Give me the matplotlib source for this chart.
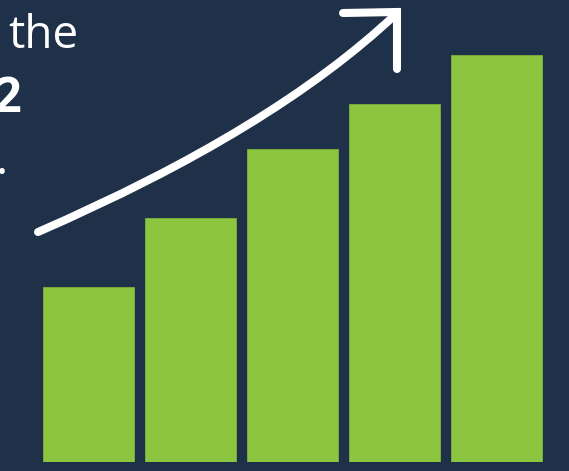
import matplotlib
matplotlib.use("Agg")
import matplotlib.pyplot as plt
from matplotlib.path import Path
from matplotlib.patches import PathPatch

# datos de las barras (altura relativa, la más alta = 100)
categorias = [0, 1, 2, 3, 4]
valores = [43, 60, 77, 88, 100]

fondo = "#1f3049"
verde = "#8cc540"

W, H = 569, 471
fig = plt.figure(figsize=(W / 100, H / 100), dpi=100, facecolor=fondo)

# ejes de las barras: base a 9 px del borde inferior
ax = fig.add_axes([0, 9 / H, 1, 1 - 9 / H])
ax.set_facecolor(fondo)
ax.bar(categorias, valores, width=0.892, color=verde, edgecolor="#7fb23a", linewidth=0.6)
ax.set_xlim(-0.868, 4.711)
ax.set_ylim(0, 113.5)
ax.axis("off")

# capa superior en coordenadas de píxel para flecha y texto
ov = fig.add_axes([0, 0, 1, 1])
ov.set_xlim(0, W)
ov.set_ylim(H, 0)
ov.axis("off")

curva = Path([(38, 232), (273, 130), (396, 14)], [Path.MOVETO, Path.CURVE3, Path.CURVE3])
ov.add_patch(PathPatch(curva, facecolor="none", edgecolor="white", lw=5.8, capstyle="round"))
ov.plot([343, 397, 397], [13, 12, 69], color="white", lw=5.8,
        solid_capstyle="round", solid_joinstyle="miter")

ov.text(8, 48, "the", color="white", fontsize=33, family="Open Sans", va="baseline", ha="left")
ov.text(21, 112, "2", color="white", fontsize=35, family="Open Sans", fontweight="bold",
        va="baseline", ha="right")
ov.text(8, 174, ".", color="white", fontsize=33, family="Open Sans", va="baseline", ha="right")

fig.savefig("out.png", dpi=100, facecolor=fondo)
